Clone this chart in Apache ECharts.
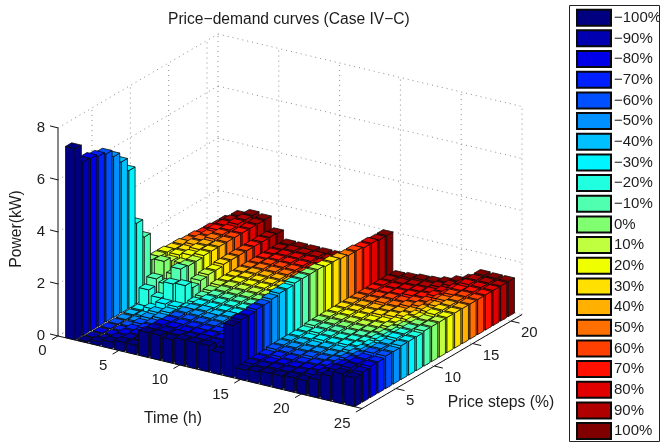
<!DOCTYPE html>
<html><head><meta charset="utf-8">
<style>html,body{margin:0;padding:0;background:#fff}#c{width:660px;height:443px}</style>
<script src="https://cdn.jsdelivr.net/npm/echarts@6/dist/echarts.min.js"></script>
</head><body><div id="c"></div>
<script>
// Tick labels and categories
const priceLabels = ['−100%','−90%','−80%','−70%','−60%','−50%','−40%','−30%','−20%','−10%','0%','10%','20%','30%','40%','50%','60%','70%','80%','90%','100%'];
const priceColors = ['#000080','#0000b0','#0000e8','#0020ff','#0050ff','#0090ff','#00c0ff','#00f4ff','#20ffe0','#50ffb0','#80ff70','#c0ff40','#f0ff00','#ffe000','#ffb000','#ff7000','#ff4000','#ff1000','#e00000','#b00000','#800000'];
const timeTicks = [0,5,10,15,20,25];
const priceTicks = [5,10,15,20];
const powerTicks = [0,2,4,6,8];
// Power (kW) per price step, hours 1..24
const pm100 = [7.35,.05,.15,.25,.35,.35,.95,.95,.9,1,1,1,.85,2,.4,.45,.5,.5,.55,.55,.7,.95,1.15,1.1];
const pm90  = [6.67,.03,.05,.2,.3,.35,.9,.9,.9,.9,.95,.9,.85,2.05,.45,.45,.5,.5,.55,.6,.75,1,1.2,1.15];
const pm80  = [6.63,.03,.05,.2,.3,.4,.9,.9,.85,.9,.9,.9,.85,2.05,.45,.45,.5,.5,.55,.6,.75,1,1.2,1.2];
const pm70  = [6.54,.03,.05,.2,.35,.4,.85,.85,.85,.85,.9,.85,.85,2.1,.45,.5,.5,.5,.55,.6,.75,1,1.2,1.2];
const pm60  = [6.45,.03,.05,.25,.35,.45,.85,.85,.85,.85,.85,.85,.8,2.1,.5,.5,.5,.55,.55,.6,.8,1,1.25,1.25];
const pm50  = [6.18,.03,.06,.3,.4,.45,.85,.85,.85,.85,.85,.85,.8,2.15,.5,.5,.5,.55,.55,.6,.8,1,1.25,1.25];
const pm40  = [5.8,.04,.08,.35,.45,.5,.8,.85,.8,.85,.85,.8,.8,2.2,.5,.5,.5,.55,.55,.65,.8,1,1.25,1.3];
const pm30  = [5.3,.05,.2,.5,.5,.55,.8,.8,.8,.8,.8,.8,.8,2.2,.5,.5,.55,.55,.6,.65,.8,1.05,1.3,1.3];
const pm20  = [3.1,.65,.45,1.1,1.15,.6,.8,.8,.8,.8,.8,.8,.8,2.25,.5,.55,.55,.55,.6,.65,.85,1.05,1.3,1.3];
const pm10  = [2.4,.9,.8,1.5,.9,.65,.8,.8,.8,.8,.8,.8,.8,2.25,.55,.55,.55,.55,.6,.65,.85,1.05,1.3,1.35];
const p0    = [1.35,1.4,1,1.45,1,.7,.8,.8,.8,.8,.8,.8,.8,2.25,.55,.55,.55,.55,.6,.65,.85,1.1,1.3,1.35];
const p10   = [1.3,1.25,1.25,1.45,1.05,.75,.8,.8,.8,.8,.8,.8,.8,2.25,.55,.55,.55,.55,.6,.7,.85,1.1,1.3,1.35];
const p20   = [1.3,1.3,1.4,1.5,1.05,.75,.8,.8,.8,.8,.8,.8,.8,2.2,.55,.55,.55,.55,.6,.7,.9,1.1,1.35,1.35];
const p30   = [1.25,1.3,1.45,1.5,1.1,.75,.8,.8,.8,.8,.8,.8,.8,2.2,.55,.55,.55,.6,.65,.75,.9,1.15,1.35,1.35];
const p40   = [1.25,1.35,1.45,1.5,1.1,.75,.8,.8,.8,.8,.8,.8,.8,2.15,.55,.55,.55,.6,.65,.75,.95,1.2,1.35,1.35];
const p50   = [1.2,1.35,1.5,1.5,1.1,.75,.8,.8,.8,.8,.8,.8,.8,2.1,.55,.55,.6,.6,.7,.8,.95,1.25,1.35,1.35];
const p60   = [1.2,1.35,1.5,1.5,1.1,.75,.8,.8,.8,.8,.8,.8,.8,2.1,.55,.55,.6,.6,.7,.8,1,1.3,1.35,1.35];
const p70   = [1.15,1.4,1.5,1.5,1.1,.75,.8,.8,.8,.8,.8,.8,.8,2.05,.55,.55,.6,.65,.7,.85,1,1.3,1.35,1.35];
const p80   = [1.15,1.4,1.55,1.5,1.1,.75,.8,.8,.8,.8,.8,.8,.8,2.05,.55,.55,.6,.65,.7,.85,1.05,1.35,1.35,1.35];
const p90   = [1.1,1.4,1.55,1.5,1.1,.75,.8,.8,.8,.8,.8,.8,.8,2,.55,.55,.6,.65,.75,.9,1.05,1.35,1.35,1.35];
const p100  = [1.1,1.4,1.55,1.5,1.07,.75,.75,.75,.75,.75,.75,.75,.75,2,.54,.58,.63,.66,.75,.9,1.07,1.36,1.35,1.35];
const powerRows = [pm100,pm90,pm80,pm70,pm60,pm50,pm40,pm30,pm20,pm10,p0,p10,p20,p30,p40,p50,p60,p70,p80,p90,p100];

// Oblique projection expressed in axis units
const P_MIN=.57, P_MAX=21.43, T_MAX=25, Z_MAX=8, HALF=.4;
const U_P=7.67/12.16, V_T=-2.9/26, V_P=4.5/26;
const prj=(t,p,z)=>[t+U_P*(p-P_MIN), z+V_T*t+V_P*(p-P_MIN)];
const FONT='"Liberation Sans",Arial,sans-serif', TXT='#1c1c1c';

function barItem(rowIdx,color){
  return function(params,api){
    const t=api.value(0), z=api.value(1), p=rowIdx+1;
    const c=(a,b,h)=>api.coord(prj(a,b,h));
    const t0=t-HALF,t1=t+HALF,p0_=p-HALF,p1=p+HALF;
    const st={fill:color,stroke:'#0a0a0a',lineWidth:.8,lineJoin:'round'};
    const poly=pts=>({type:'polygon',shape:{points:pts},style:st,silent:true});
    return {type:'group',children:[
      poly([c(t0,p0_,0),c(t1,p0_,0),c(t1,p0_,z),c(t0,p0_,z)]),
      poly([c(t1,p0_,0),c(t1,p1,0),c(t1,p1,z),c(t1,p0_,z)]),
      poly([c(t0,p0_,z),c(t1,p0_,z),c(t1,p1,z),c(t0,p1,z)])
    ]};
  };
}
const barSeries=powerRows.map((row,i)=>({
  type:'custom',name:priceLabels[i],coordinateSystem:'cartesian2d',
  z:30-i,clip:false,silent:true,animation:false,
  itemStyle:{color:priceColors[i],borderColor:'#0a0a0a',borderWidth:1},
  encode:{x:0,y:1},
  data:row.map((v,h)=>[h+1,v]),
  renderItem:barItem(i,priceColors[i])
}));

function frameItem(params,api){
  const c=(a,b,h)=>api.coord(prj(a,b,h));
  const kids=[];
  const seg=(A,B,style)=>kids.push({type:'line',shape:{x1:A[0],y1:A[1],x2:B[0],y2:B[1]},style,silent:true});
  const dot={stroke:'#8c8c8c',lineWidth:1,lineDash:[1,4],fill:null};
  powerTicks.forEach(z=>{
    seg(c(0,P_MIN,z),c(0,P_MAX,z),dot);
    seg(c(0,P_MAX,z),c(T_MAX,P_MAX,z),dot);
  });
  timeTicks.forEach(t=>{
    seg(c(t,P_MAX,0),c(t,P_MAX,Z_MAX),dot);
    seg(c(t,P_MIN,0),c(t,P_MAX,0),dot);
  });
  priceTicks.forEach(p=>{
    seg(c(0,p,0),c(0,p,Z_MAX),dot);
    seg(c(0,p,0),c(T_MAX,p,0),dot);
  });
  return {type:'group',children:kids};
}
function axisItem(params,api){
  const c=(a,b,h)=>api.coord(prj(a,b,h));
  const kids=[];
  const seg=(A,B)=>kids.push({type:'line',shape:{x1:A[0],y1:A[1],x2:B[0],y2:B[1]},style:{stroke:'#111',lineWidth:1,fill:null},silent:true});
  const txt=(A,dx,dy,s,al)=>kids.push({type:'text',x:A[0]+dx,y:A[1]+dy,style:{text:s,font:'15px '+FONT,fill:TXT,textAlign:al,textVerticalAlign:'middle'},silent:true});
  seg(c(0,P_MIN,0),c(0,P_MIN,Z_MAX));
  seg(c(0,P_MIN,0),c(T_MAX,P_MIN,0));
  seg(c(T_MAX,P_MIN,0),c(T_MAX,P_MAX,0));
  powerTicks.forEach(z=>{const a=c(0,P_MIN,z);seg(a,[a[0]-8,a[1]-2]);txt(a,-13,0,String(z),'right');});
  timeTicks.forEach(t=>{const a=c(t,P_MIN,0);seg(a,c(t,P_MIN-.8,0));txt(a,-11.5,15,String(t),'right');});
  priceTicks.forEach(p=>{const a=c(T_MAX,p,0);seg(a,c(T_MAX+.7,p,0));txt(a,10,12,String(p),'left');});
  return {type:'group',children:kids};
}

const chart=echarts.init(document.getElementById('c'),null,{renderer:'canvas'});
const NAME_FONT='15.7px '+FONT;
chart.setOption({
  animation:false,backgroundColor:'#fff',
  title:{text:'Price−demand curves (Case IV−C)',left:163,top:7,
    textStyle:{fontFamily:FONT,fontSize:15.6,fontWeight:'normal',color:TXT}},
  grid:{left:58,top:34,width:464,height:374.5,containLabel:false},
  xAxis:{type:'value',show:false,min:0,max:T_MAX+U_P*(P_MAX-P_MIN)},
  yAxis:{type:'value',show:false,min:V_T*T_MAX,max:Z_MAX+V_P*(P_MAX-P_MIN)},
  legend:{orient:'vertical',left:576,top:8.7,itemWidth:34,itemHeight:16,itemGap:2.67,padding:0,
    icon:'rect',selectedMode:false,data:priceLabels,
    textStyle:{fontFamily:FONT,fontSize:15,lineHeight:16,height:16,color:TXT,padding:[0,0,0,-2]}},
  graphic:[
    {type:'rect',shape:{x:569.5,y:5.5,width:90,height:436},style:{fill:null,stroke:'#222',lineWidth:1},silent:true},
    {type:'text',x:17,y:229,rotation:Math.PI/2,style:{text:'Power(kW)',font:NAME_FONT,fill:TXT,textAlign:'center',textVerticalAlign:'middle'},silent:true},
    {type:'text',x:173,y:419,style:{text:'Time (h)',font:NAME_FONT,fill:TXT,textAlign:'center',textVerticalAlign:'middle'},silent:true},
    {type:'text',x:501,y:403,style:{text:'Price steps (%)',font:NAME_FONT,fill:TXT,textAlign:'center',textVerticalAlign:'middle'},silent:true}
  ],
  series:[
    {type:'custom',coordinateSystem:'cartesian2d',z:1,silent:true,clip:false,data:[[0,0]],renderItem:frameItem},
    {type:'custom',coordinateSystem:'cartesian2d',z:2,silent:true,clip:false,data:[[0,0]],renderItem:axisItem},
    ...barSeries
  ]
});
</script></body></html>
